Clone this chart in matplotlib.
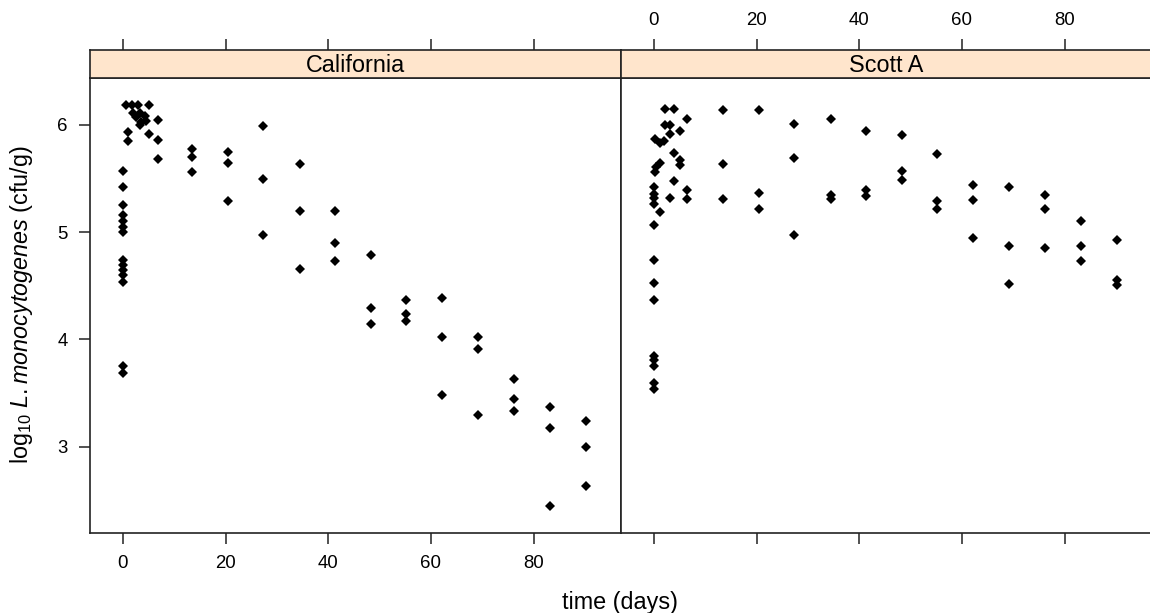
import matplotlib
matplotlib.use("Agg")
import matplotlib.pyplot as plt
import numpy as np

plt.rcParams['font.family'] = ['Liberation Sans', 'DejaVu Sans']
plt.rcParams['mathtext.fontset'] = 'custom'
plt.rcParams['mathtext.rm'] = 'Liberation Sans'
plt.rcParams['mathtext.it'] = 'Liberation Sans:italic'

# weekly sampling times after the first week (days)
late_days = [13.5, 20.5, 27.2, 34.4, 41.3, 48.3, 55.2, 62.2, 69.1, 76.2, 83.1, 90.2]

# California strain
cal_early_t = [0, 0, 0, 0, 0, 0, 0, 0, 0, 0, 0, 0, 0, 0,
               0.7, 1.7, 3.0, 5.1, 2.0, 3.3, 2.5, 4.3, 3.5, 3.3, 4.6, 6.9,
               1.0, 1.0, 5.1, 6.9, 6.9]
cal_early_v = [5.57, 5.42, 5.25, 5.16, 5.10, 5.05, 5.00, 4.74, 4.69, 4.65, 4.60, 4.54, 3.75, 3.69,
               6.19, 6.19, 6.19, 6.19, 6.11, 6.11, 6.07, 6.08, 6.03, 6.00, 6.04, 6.05,
               5.93, 5.85, 5.92, 5.86, 5.68]
cal_late = [[5.78, 5.70, 5.56],
            [5.75, 5.65, 5.29],
            [5.99, 5.50, 4.97],
            [5.64, 5.20, 4.66],
            [5.20, 4.90, 4.73],
            [4.79, 4.29, 4.14],
            [4.37, 4.24, 4.17],
            [4.39, 4.02, 3.48],
            [4.02, 3.91, 3.30],
            [3.63, 3.44, 3.33],
            [3.37, 3.17, 2.45],
            [3.24, 3.00, 2.63]]

# Scott A strain
scott_early_t = [0, 0, 0, 0, 0, 0, 0, 0, 0, 0, 0, 0, 0,
                 0.3, 0.5, 0.3, 1.1, 1.1, 1.1, 1.9, 2.1, 2.1,
                 3.1, 3.1, 3.1, 4.0, 4.0, 4.0, 5.0, 5.15, 5.0, 6.4, 6.4, 6.4]
scott_early_v = [5.42, 5.36, 5.32, 5.26, 5.07, 4.74, 4.53, 4.37, 3.85, 3.81, 3.75, 3.59, 3.54,
                 5.87, 5.61, 5.56, 5.83, 5.65, 5.19, 5.85, 6.15, 6.00,
                 6.00, 5.92, 5.32, 6.15, 5.74, 5.48, 5.94, 5.67, 5.63, 6.06, 5.39, 5.31]
scott_late = [[6.14, 5.64, 5.31],
              [6.14, 5.37, 5.22],
              [6.01, 5.69, 4.97],
              [6.06, 5.35, 5.31],
              [5.94, 5.39, 5.34],
              [5.91, 5.57, 5.49],
              [5.73, 5.29, 5.22],
              [5.44, 5.30, 4.95],
              [5.42, 4.87, 4.52],
              [5.35, 5.22, 4.85],
              [5.10, 4.87, 4.73],
              [4.93, 4.55, 4.51]]

strains = ['California', 'Scott A']
xticks = [0, 20, 40, 60, 80]
yticks = [3, 4, 5, 6]

W, H = 1150, 613
fig = plt.figure(figsize=(W / 100, H / 100), dpi=100)


def fx(px):
    return px / W


def fy(py):
    return 1 - py / H


panels = [(90, 621, cal_early_t, cal_early_v, cal_late),
          (621, 1152, scott_early_t, scott_early_v, scott_late)]
xlim = (-6.4, 97.0)
ylim = (2.195, 6.438)
top, bot, strip_top = 78, 533, 49.5
tick_fs = 13.4
lab_fs = 16.8

for i, (x0, x1, et, ev, late) in enumerate(panels):
    t = list(et)
    v = list(ev)
    for d, vals in zip(late_days, late):
        t += [d] * len(vals)
        v += vals
    ax = fig.add_axes([fx(x0), fy(bot), (x1 - x0) / W, (bot - top) / H])
    ax.plot(t, v, 'D', color='black', ms=4.8, mew=0)
    ax.set_xlim(*xlim)
    ax.set_ylim(*ylim)
    ax.set_xticks(xticks)
    ax.set_yticks(yticks)
    ax.tick_params(direction='out', length=8, width=1.1, labelsize=tick_fs, pad=8,
                   color='#222222')
    if i == 0:
        ax.tick_params(axis='y', left=True, labelleft=True, right=False)
        ax.tick_params(axis='x', bottom=True, labelbottom=True)
    else:
        ax.tick_params(axis='y', left=False, labelleft=False, right=True, labelright=False)
        ax.tick_params(axis='x', bottom=True, labelbottom=False)
    for s in ax.spines.values():
        s.set_linewidth(1.2)
        s.set_color('#222222')

    # strip on top of each panel, carrying the top ticks
    sax = fig.add_axes([fx(x0), fy(top), (x1 - x0) / W, (top - strip_top) / H])
    sax.set_facecolor('#FFE5CC')
    sax.set_xlim(*xlim)
    sax.set_yticks([])
    sax.set_xticks(xticks)
    sax.tick_params(axis='x', bottom=False, labelbottom=False, top=True,
                    labeltop=(i == 1), direction='out', length=8, width=1.1,
                    labelsize=tick_fs, pad=7, color='#222222')
    for s in sax.spines.values():
        s.set_linewidth(1.2)
        s.set_color('#222222')
    sax.text(0.5, 0.45, strains[i], transform=sax.transAxes, ha='center',
             va='center', fontsize=lab_fs)

fig.text(fx(620), fy(602), 'time (days)', ha='center', va='center', fontsize=lab_fs)
fig.text(fx(22), fy(305), r'log$_{10}$ $\mathit{L{.}monocytogenes}$ (cfu/g)',
         rotation=90, ha='center', va='center', fontsize=lab_fs)

fig.savefig('out.png', dpi=100)
